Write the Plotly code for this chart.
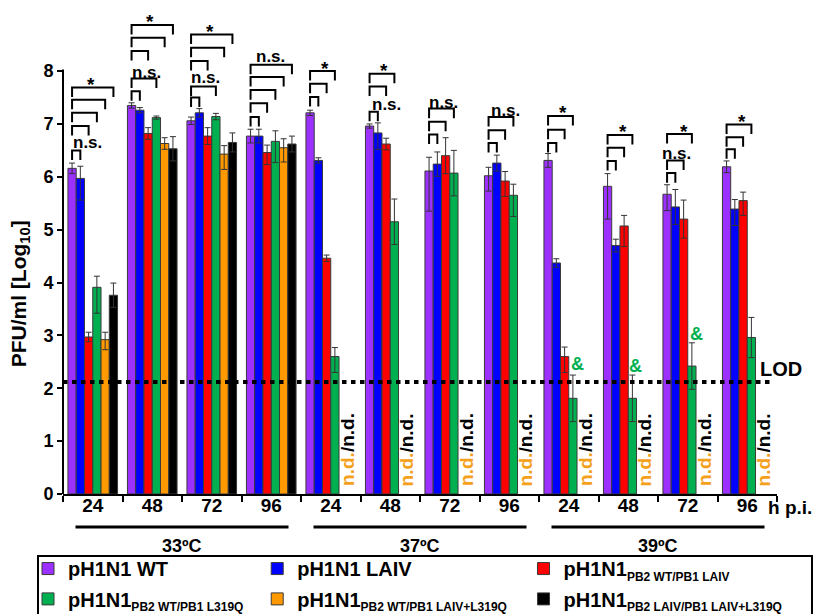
import plotly.graph_objects as go

# ---------------- data ----------------
time_labels = ["24", "48", "72", "96", "24", "48", "72", "96", "24", "48", "72", "96"]
temps = ["33ºC", "37ºC", "39ºC"]

names = [
    "pH1N1 WT",
    "pH1N1 LAIV",
    "pH1N1<sub><span style='font-size:12px'>PB2 WT/PB1 LAIV</span></sub>",
    "pH1N1<sub><span style='font-size:12px'>PB2 WT/PB1 L319Q</span></sub>",
    "pH1N1<sub><span style='font-size:12px'>PB2 WT/PB1 LAIV+L319Q</span></sub>",
    "pH1N1<sub><span style='font-size:12px'>PB2 LAIV/PB1 LAIV+L319Q</span></sub>",
]
colors = ["#9B30FF", "#0000FF", "#FF0000", "#00B050", "#FF9900", "#000000"]

wt = [6.16, 7.35, 7.06, 6.77, 7.21, 6.96, 6.11, 6.02, 6.31, 5.82, 5.67, 6.19]
wt_up = [0.10, 0.05, 0.07, 0.13, 0.05, 0.04, 0.26, 0.16, 0.13, 0.24, 0.18, 0.11]
wt_dn = [0.10, 0.05, 0.07, 0.13, 0.05, 0.04, 0.76, 0.29, 0.13, 0.62, 0.31, 0.11]

laiv = [5.97, 7.26, 7.21, 6.77, 6.31, 6.83, 6.24, 6.26, 4.37, 4.70, 5.43, 5.39]
laiv_up = [0.23, 0.05, 0.08, 0.13, 0.05, 0.19, 0.23, 0.15, 0.08, 0.12, 0.33, 0.18]
laiv_dn = [0.41, 0.05, 0.08, 0.13, 0.05, 0.31, 0.23, 0.15, 0.08, 0.12, 0.33, 0.31]

pb1laiv = [2.97, 6.82, 6.77, 6.46, 4.46, 6.62, 6.40, 5.92, 2.60, 5.07, 5.20, 5.55]
pb1laiv_up = [0.09, 0.11, 0.16, 0.14, 0.06, 0.11, 0.34, 0.18, 0.18, 0.20, 0.36, 0.16]
pb1laiv_dn = [0.09, 0.11, 0.16, 0.23, 0.06, 0.11, 0.34, 0.29, 0.30, 0.39, 0.36, 0.28]

l319q = [3.91, 7.12, 7.14, 6.67, 2.60, 5.15, 6.07, 5.65, 1.81, 1.81, 2.42, 2.96]
l319q_up = [0.21, 0.03, 0.06, 0.20, 0.17, 0.43, 0.43, 0.21, 0.44, 0.44, 0.44, 0.38]
l319q_dn = [0.49, 0.03, 0.06, 0.40, 0.30, 0.43, 0.43, 0.40, 0.44, 0.44, 0.44, 0.38]

laivl319q = [2.92, 6.63, 6.43, 6.55, None, None, None, None, None, None, None, None]
laivl319q_up = [0.14, 0.11, 0.16, 0.17, None, None, None, None, None, None, None, None]
laivl319q_dn = [0.19, 0.11, 0.29, 0.27, None, None, None, None, None, None, None, None]

dbl = [3.76, 6.53, 6.65, 6.62, None, None, None, None, None, None, None, None]
dbl_up = [0.23, 0.23, 0.18, 0.15, None, None, None, None, None, None, None, None]
dbl_dn = [0.23, 0.23, 0.18, 0.15, None, None, None, None, None, None, None, None]

values = [wt, laiv, pb1laiv, l319q, laivl319q, dbl]
err_up = [wt_up, laiv_up, pb1laiv_up, l319q_up, laivl319q_up, dbl_up]
err_dn = [wt_dn, laiv_dn, pb1laiv_dn, l319q_dn, laivl319q_dn, dbl_dn]

LOD = 2.12
nd_groups = [4, 5, 6, 7, 8, 9, 10, 11]

# significance brackets: compared bar index and bracket height per group
bracket_targets = [
    [1, 2, 3, 4, 5], [1, 3, 2, 4, 5], [1, 3, 2, 4, 5], [1, 2, 3, 4, 5],
    [1, 2, 3], [1, 2, 3], [1, 2, 3], [1, 2, 3],
    [1, 2, 3], [1, 2, 3], [1, 2, 3], [1, 2, 3],
]
bracket_tops = [
    [6.50, 6.96, 7.21, 7.46, 7.69], [7.62, 7.86, 8.38, 8.63, 8.87],
    [7.50, 7.71, 8.19, 8.44, 8.69], [7.13, 7.39, 7.64, 7.89, 8.12],
    [7.51, 7.76, 8.00], [7.23, 7.71, 7.95], [6.80, 7.04, 7.29], [6.64, 6.88, 7.13],
    [6.64, 6.89, 7.15], [6.30, 6.55, 6.79], [6.07, 6.31, 6.81], [6.52, 6.75, 6.99],
]
sig_text = ["n.s.", "*", "n.s.", "*", "n.s.", "*", "n.s.", "*", "n.s.", "*", "n.s.", "n.s.",
            "*", "*", "n.s.", "*", "*"]
sig_x = [0.42, 0.47, 1.41, 1.47, 2.40, 2.47, 3.48, 4.40, 5.43, 5.39, 6.40, 7.43,
         8.41, 9.42, 10.31, 10.43, 11.41]
sig_y = [6.64, 7.75, 7.97, 8.93, 7.87, 8.74, 8.28, 8.05, 7.37, 8.02, 7.41, 7.25,
         7.21, 6.85, 6.44, 6.85, 7.05]

amp_x = [8.64, 9.62, 10.64]
amp_y = [2.46, 2.42, 3.03]

# ---------------- figure ----------------
BW = 0.139
LEG = 0.18
centers = [i + 0.5 for i in range(12)]

legend_ids = ["legend", "legend2", "legend3", "legend4", "legend5", "legend6"]
legend_x = [-0.049, 0.272, 0.645, -0.049, 0.272, 0.645]
legend_y = [-0.1126, -0.1126, -0.1126, -0.1746, -0.1746, -0.1746]

fig = go.Figure()
for k in range(6):
    fig.add_trace(go.Bar(
        x=centers, y=values[k], width=BW, offset=(k - 3) * BW,
        name=names[k], legend=legend_ids[k],
        marker=dict(color=colors[k], line=dict(color="#3a3a3a", width=1)),
        error_y=dict(type="data", symmetric=False, array=err_up[k], arrayminus=err_dn[k],
                     color="#333333", thickness=1, width=3),
    ))

bx, by = [], []
for i, (targets, tops) in enumerate(zip(bracket_targets, bracket_tops)):
    x0 = centers[i] + (0 - 2.5) * BW
    for k, top in zip(targets, tops):
        x1 = centers[i] + (k - 2.5) * BW
        bx += [x0, x0, x1, x1, None]
        by += [top - LEG, top, top, top - LEG, None]
fig.add_trace(go.Scatter(x=bx, y=by, mode="lines", line=dict(color="black", width=2),
                         showlegend=False, hoverinfo="skip"))

annotations = []
for t, x, y in zip(sig_text, sig_x, sig_y):
    annotations.append(dict(x=x, y=y, xref="x", yref="y", text=t, showarrow=False,
                            font=dict(size=17 if t == "n.s." else 19, weight="bold")))
for x, y in zip(amp_x, amp_y):
    annotations.append(dict(x=x, y=y, xref="x", yref="y", text="&", showarrow=False,
                            font=dict(size=18, color="#00B050", weight="bold")))
for g in nd_groups:
    annotations.append(dict(x=centers[g] + 2 * BW, y=0.84, xref="x", yref="y",
                            text="<span style='color:#F5A01A'>n.d.</span>/n.d.",
                            textangle=-90, showarrow=False,
                            font=dict(size=19, weight="bold")))
annotations.append(dict(x=1.006, y=LOD + 0.24, xref="paper", yref="y", text="LOD",
                        xanchor="center", yanchor="middle",
                        showarrow=False, font=dict(size=20, weight="bold")))
annotations.append(dict(x=1.018, y=-0.027, xref="paper", yref="paper", text="h p.i.",
                        xanchor="center", yanchor="middle",
                        showarrow=False, font=dict(size=19, weight="bold")))
annotations.append(dict(x=-0.060, y=3.78, xref="paper", yref="y",
                        text="PFU/ml [Log<sub>10</sub>]", textangle=-90,
                        xanchor="center", yanchor="middle",
                        showarrow=False, font=dict(size=21, weight="bold")))
for j, t in enumerate(temps):
    annotations.append(dict(x=2 + 4 * j, y=-0.106, xref="x", yref="paper", text=t,
                            xanchor="center", yanchor="middle",
                            showarrow=False, font=dict(size=18, weight="bold")))

shapes = [
    dict(type="line", xref="x domain", yref="y", x0=0, x1=0, y0=0, y1=8.03,
         line=dict(color="black", width=2)),
    dict(type="line", xref="x", yref="y", x0=0, x1=11.92, y0=LOD, y1=LOD,
         line=dict(color="black", width=4, dash="4.5px,4.5px"), layer="above"),
    dict(type="rect", xref="paper", yref="paper", x0=-0.035, x1=1.049, y0=-0.127, y1=-0.27,
         line=dict(color="black", width=2)),
]
for j in range(3):
    shapes.append(dict(type="line", xref="x", yref="paper", x0=2 + 4 * j - 1.79,
                       x1=2 + 4 * j + 1.79, y0=-0.0675, y1=-0.0675,
                       line=dict(color="black", width=3)))

legends = {}
for k in range(6):
    legends[legend_ids[k]] = dict(x=legend_x[k], y=legend_y[k], xanchor="left", yanchor="top",
                                  orientation="v", bgcolor="rgba(0,0,0,0)", borderwidth=0,
                                  font=dict(size=20, weight="bold"))

fig.update_layout(
    width=814, height=614,
    margin=dict(l=63, r=37, t=5, b=120, autoexpand=False),
    plot_bgcolor="white", paper_bgcolor="white",
    barmode="group",
    font=dict(family="Liberation Sans, Arial, sans-serif", size=18, color="black", weight="bold"),
    annotations=annotations, shapes=shapes,
    xaxis=dict(range=[0, 12], tickmode="array", tickvals=centers, ticktext=time_labels,
               ticks="", showline=True, linewidth=2, linecolor="black",
               showgrid=False, zeroline=False, tickfont=dict(size=19, weight="bold"),
               ticklabelstandoff=-7,
               minor=dict(tickmode="array", tickvals=list(range(13)), ticks="outside",
                          ticklen=6, tickwidth=2, tickcolor="black")),
    yaxis=dict(range=[0, 9.25], tickmode="array", tickvals=list(range(9)),
               ticks="outside", ticklen=5, tickwidth=2, tickcolor="black",
               showline=False, showgrid=False, zeroline=False,
               tickfont=dict(size=18, weight="bold"),
               automargin=False),
    **legends,
)

fig.write_html("out.html", config={"displayModeBar": False},
               post_script="document.body.style.margin='0px';")
